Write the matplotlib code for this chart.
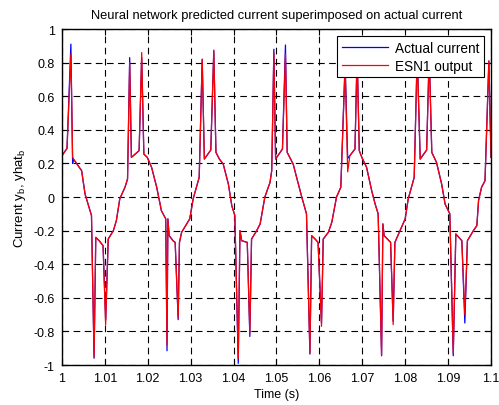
import numpy as np
import matplotlib
matplotlib.use('Agg')
import matplotlib.pyplot as plt

plt.rcParams['font.family'] = ['Liberation Sans', 'DejaVu Sans']
plt.rcParams['mathtext.default'] = 'regular'

# values
time = [
    1.0000, 1.0012, 1.0021, 1.0025, 1.0027, 1.0046, 1.0054, 1.0069, 1.0075, 1.0079,
    1.0087, 1.0096, 1.0102, 1.0108, 1.0120, 1.0127, 1.0135, 1.0147, 1.0153, 1.0158,
    1.0162, 1.0180, 1.0186, 1.0191, 1.0199, 1.0209, 1.0221, 1.0232, 1.0242, 1.0245,
    1.0247, 1.0250, 1.0259, 1.0264, 1.0271, 1.0274, 1.0279, 1.0298, 1.0306, 1.0320,
    1.0327, 1.0332, 1.0347, 1.0354, 1.0359, 1.0367, 1.0376, 1.0388, 1.0396, 1.0403,
    1.0411, 1.0415, 1.0419, 1.0432, 1.0438, 1.0442, 1.0454, 1.0462, 1.0473, 1.0485,
    1.0489, 1.0494, 1.0498, 1.0514, 1.0521, 1.0525, 1.0539, 1.0547, 1.0559, 1.0570,
    1.0578, 1.0582, 1.0590, 1.0597, 1.0605, 1.0609, 1.0621, 1.0629, 1.0640, 1.0650,
    1.0660, 1.0666, 1.0671, 1.0683, 1.0688, 1.0693, 1.0699, 1.0710, 1.0722, 1.0730,
    1.0737, 1.0745, 1.0748, 1.0751, 1.0766, 1.0772, 1.0776, 1.0788, 1.0800, 1.0807,
    1.0821, 1.0828, 1.0835, 1.0850, 1.0856, 1.0862, 1.0873, 1.0885, 1.0893, 1.0904,
    1.0912, 1.0918, 1.0932, 1.0939, 1.0945, 1.0959, 1.0967, 1.0971, 1.0978, 1.0986,
    1.0995, 1.1000,
]

actual = [
    0.245, 0.29, 0.91, 0.20, 0.226, 0.157, 0.018, -0.11, -0.96, -0.24,
    -0.26, -0.29, -0.73, -0.25, -0.20, -0.14, -0.01, 0.058, 0.107, 0.83,
    0.236, 0.276, 0.83, 0.256, 0.236, 0.177, 0.058, -0.082, -0.13, -0.915,
    -0.13, -0.23, -0.26, -0.27, -0.73, -0.27, -0.21, -0.13, -0.01, 0.117,
    0.82, 0.226, 0.28, 0.87, 0.266, 0.226, 0.196, 0.077, -0.052, -0.11,
    -0.99, -0.20, -0.26, -0.27, -0.83, -0.25, -0.20, -0.16, 0.0, 0.087,
    0.157, 0.88, 0.226, 0.286, 0.905, 0.266, 0.196, 0.117, 0.0, -0.10,
    -0.935, -0.23, -0.25, -0.27, -0.75, -0.25, -0.21, -0.15, 0.0, 0.058,
    0.80, 0.23, 0.246, 0.286, 0.85, 0.276, 0.236, 0.177, 0.037, -0.042,
    -0.10, -0.945, -0.16, -0.23, -0.27, -0.74, -0.27, -0.20, -0.13, -0.012,
    0.117, 0.85, 0.226, 0.28, 0.85, 0.266, 0.206, 0.077, -0.042, -0.10,
    -0.945, -0.22, -0.26, -0.75, -0.26, -0.20, -0.17, -0.02, 0.058, 0.097,
    0.81, 0.236,
]

esn = [
    0.245, 0.29, 0.85, 0.24, 0.226, 0.157, 0.018, -0.11, -0.95, -0.24,
    -0.26, -0.29, -0.76, -0.25, -0.20, -0.14, -0.01, 0.058, 0.107, 0.80,
    0.236, 0.276, 0.86, 0.256, 0.236, 0.177, 0.058, -0.082, -0.13, -0.88,
    -0.13, -0.23, -0.26, -0.27, -0.72, -0.27, -0.21, -0.13, -0.01, 0.117,
    0.82, 0.226, 0.28, 0.875, 0.266, 0.226, 0.196, 0.077, -0.052, -0.11,
    -0.96, -0.20, -0.26, -0.27, -0.81, -0.25, -0.20, -0.16, 0.0, 0.087,
    0.157, 0.86, 0.226, 0.286, 0.85, 0.266, 0.196, 0.117, 0.0, -0.10,
    -0.93, -0.23, -0.25, -0.27, -0.77, -0.25, -0.21, -0.15, 0.0, 0.058,
    0.78, 0.15, 0.246, 0.286, 0.85, 0.276, 0.236, 0.177, 0.037, -0.042,
    -0.10, -0.94, -0.16, -0.23, -0.27, -0.76, -0.27, -0.20, -0.13, -0.012,
    0.117, 0.85, 0.226, 0.28, 0.85, 0.266, 0.206, 0.077, -0.042, -0.10,
    -0.93, -0.22, -0.26, -0.70, -0.26, -0.20, -0.17, -0.02, 0.058, 0.097,
    0.81, 0.236,
]

x_ticks = [1.0, 1.01, 1.02, 1.03, 1.04, 1.05, 1.06, 1.07, 1.08, 1.09, 1.1]
x_labels = ['1', '1.01', '1.02', '1.03', '1.04', '1.05', '1.06', '1.07', '1.08', '1.09', '1.1']
y_ticks = [-1, -0.8, -0.6, -0.4, -0.2, 0, 0.2, 0.4, 0.6, 0.8, 1]
y_labels = ['-1', '-0.8', '-0.6', '-0.4', '-0.2', '0', '0.2', '0.4', '0.6', '0.8', '1']

fig = plt.figure(figsize=(4.99, 4.06), dpi=100)
ax = fig.add_axes([0.124, 0.0985, 0.86, 0.8275])

ax.plot(time, actual, color='blue', lw=0.9, label='Actual current')
ax.plot(time, esn, color='red', lw=0.9, label='ESN1 output')

ax.set_xlim(1.0, 1.1)
ax.set_ylim(-1, 1)
ax.set_xticks(x_ticks)
ax.set_xticklabels(x_labels)
ax.set_yticks(y_ticks)
ax.set_yticklabels(y_labels)
ax.tick_params(direction='in', top=True, right=True, length=4, width=0.8, labelsize=9, pad=5)
ax.grid(True, color='black', linestyle=(0, (6, 4)), linewidth=0.8)
ax.set_axisbelow(True)
for sp in ax.spines.values():
    sp.set_linewidth(1.0)

ax.set_title('Neural network predicted current superimposed on actual current', fontsize=9.3, pad=8)
ax.set_xlabel('Time (s)', fontsize=9, labelpad=3)
ax.set_ylabel('Current y$_b$, yhat$_b$', fontsize=9.5, labelpad=4)

leg = ax.legend(loc='upper right', fontsize=9.8, fancybox=False, framealpha=1,
                edgecolor='black', handlelength=3.4, borderaxespad=0.5,
                borderpad=0.35, labelspacing=0.3, handletextpad=0.5)
leg.get_frame().set_linewidth(0.8)

fig.savefig('out.png', dpi=100)
